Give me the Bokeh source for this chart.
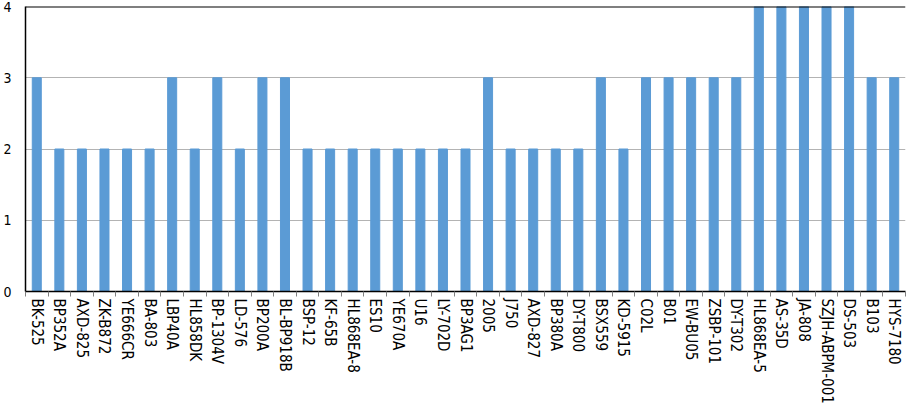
from bokeh.plotting import figure
from bokeh.models import (ColumnDataSource, FactorRange, Range1d, LinearAxis, CategoricalAxis,
                          FixedTicker, Span, CustomJSTickFormatter)
from bokeh.embed import file_html
from bokeh.resources import INLINE

categories = ["BK-525", "BP352A", "AXD-825", "ZK-B872", "YE666CR", "BA-803", "LBP40A", "HL858DK",
              "BP-1304V", "LD-576", "BP200A", "BL-BP918B", "BSP-12", "KF-65B", "HL868EA-8", "ES10",
              "YE670A", "U16", "LY-702D", "BP3AG1", "2005", "J750", "AXD-827", "BP380A", "DY-T800",
              "BSX559", "KD-5915", "C02L", "B01", "EW-BU05", "ZSBP-101", "DY-T302", "HL868EA-5",
              "AS-35D", "JA-808", "SZJH-ABPM-001", "DS-503", "B103", "HYS-7180"]
values = [3, 2, 2, 2, 2, 2, 3, 2, 3, 2, 3, 3, 2, 2, 2, 2, 2, 2, 2, 2, 3, 2, 2, 2, 2,
          3, 2, 3, 3, 3, 3, 3, 4, 4, 4, 4, 4, 3, 3]
y_ticks = [0, 1, 2, 3, 4]

FONT = "DejaVu Sans Condensed, DejaVu Sans"

src = ColumnDataSource(dict(cat=categories, val=values))

p = figure(width=906, height=410, x_range=FactorRange(*categories, range_padding=0),
           y_range=Range1d(0, 4), output_backend="svg", toolbar_location=None,
           x_axis_location=None, y_axis_location=None,
           min_border_left=25, min_border_right=1, min_border_top=6, min_border_bottom=119)
p.margin = (0, 0, 0, 0)
p.outline_line_color = None
p.background_fill_color = "white"
p.border_fill_color = "white"

p.vbar(x="cat", top="val", width=0.4, source=src, color="#5b9bd5")

# y axis
yax = LinearAxis(ticker=FixedTicker(ticks=y_ticks))
yax.axis_line_color = "black"
yax.axis_line_width = 1.5
yax.major_tick_in = 0
yax.major_tick_out = 0
yax.minor_tick_line_color = None
yax.major_label_standoff = 14
yax.major_label_text_font = FONT
yax.major_label_text_font_size = "14px"
yax.major_label_text_color = "black"
p.add_layout(yax, "left")

p.xgrid.grid_line_color = None
p.ygrid.ticker = FixedTicker(ticks=y_ticks)
p.ygrid.grid_line_color = "#b3b3b3"

# boundary ticks axis (synthetic coordinates of the factor range: category edges)
eax = LinearAxis(ticker=FixedTicker(ticks=list(range(len(categories) + 1))),
                 formatter=CustomJSTickFormatter(code="return ''"))
eax.axis_line_color = "black"
eax.axis_line_width = 1.5
eax.major_tick_line_color = "#808080"
eax.major_tick_in = 0
eax.major_tick_out = 5
eax.minor_tick_line_color = None
eax.major_label_text_font_size = "1px"
eax.major_label_standoff = 0
p.add_layout(eax, "below")

cax = CategoricalAxis()
cax.axis_line_color = None
cax.major_tick_line_color = None
cax.major_tick_in = 0
cax.major_tick_out = 0
cax.major_label_orientation = "vertical"
cax.major_label_standoff = 2
cax.major_label_text_font = FONT
cax.major_label_text_font_size = "15px"
cax.major_label_text_color = "black"
p.add_layout(cax, "below")

p.add_layout(Span(location=4, dimension="width", line_color="black", line_width=2))

open("out.html", "w").write(file_html(p, INLINE))
